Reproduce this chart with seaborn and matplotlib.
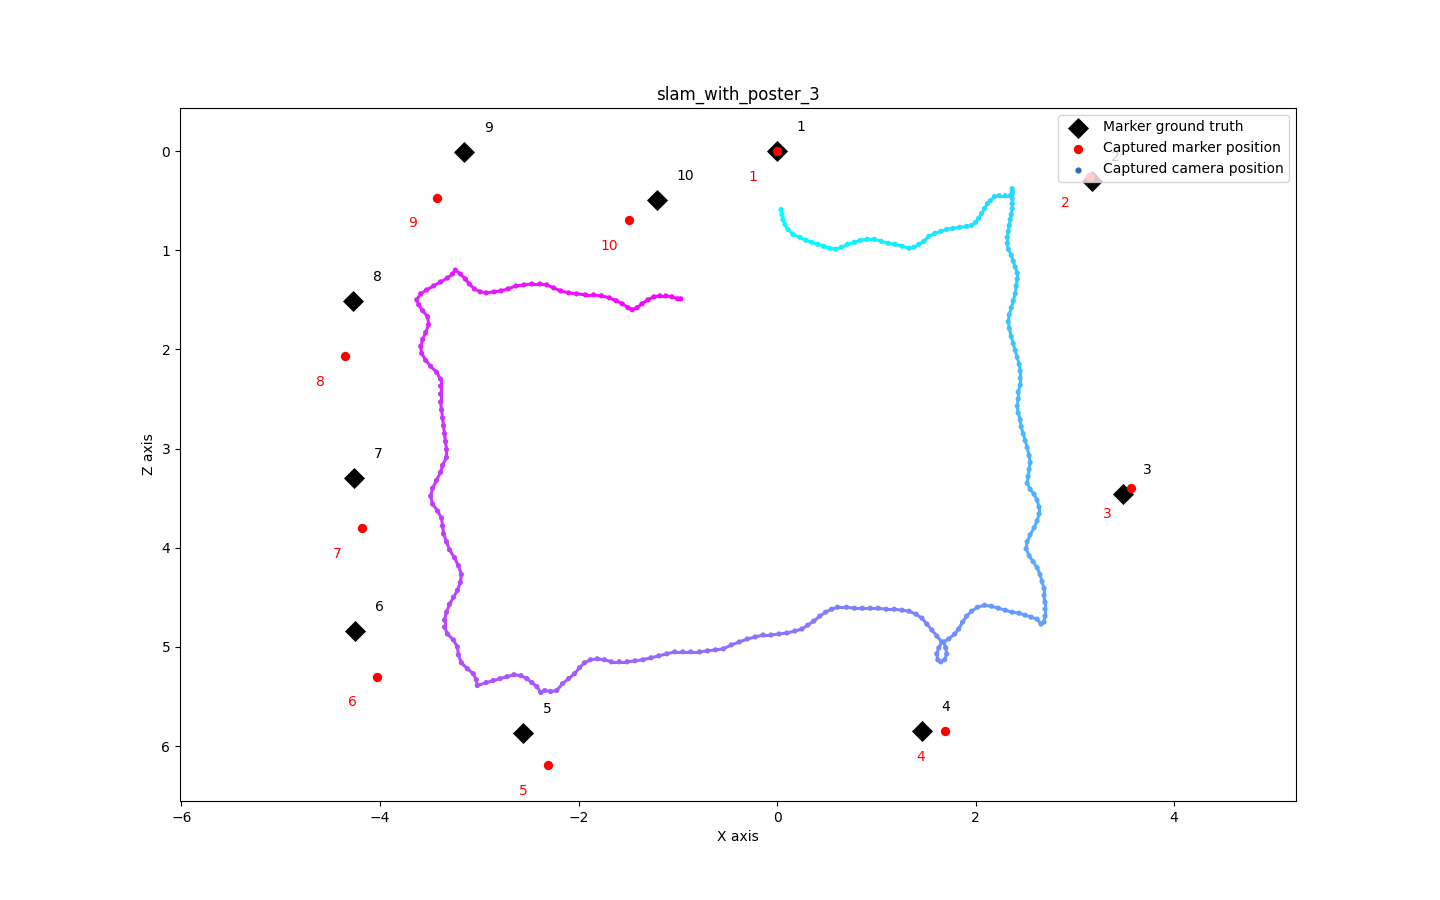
import numpy as np
import seaborn as sb
import matplotlib.pyplot as plt
from matplotlib.collections import LineCollection

# marker positions
marker_ids = [1, 2, 3, 4, 5, 6, 7, 8, 9, 10]
truth_x = [0.0, 3.17, 3.49, 1.46, -2.56, -4.25, -4.26, -4.27, -3.15, -1.21]
truth_z = [0.0, 0.30, 3.46, 5.85, 5.87, 4.84, 3.30, 1.51, 0.01, 0.49]
captured_x = [0.0, 3.15, 3.57, 1.69, -2.31, -4.03, -4.18, -4.35, -3.43, -1.49]
captured_z = [0.0, 0.26, 3.40, 5.85, 6.19, 5.30, 3.80, 2.07, 0.47, 0.70]

# camera track, in capture order
camera_x = [
    0.04, 0.05, 0.06, 0.08, 0.11, 0.16, 0.23, 0.29, 0.35, 0.41, 0.47, 0.53, 0.59, 0.65, 0.71, 0.78,
    0.84, 0.91, 0.98, 1.05, 1.12, 1.19, 1.26, 1.33, 1.38, 1.43, 1.48, 1.53, 1.59, 1.65, 1.71, 1.77,
    1.84, 1.91, 1.96, 2.00, 2.03, 2.06, 2.09, 2.12, 2.15, 2.19, 2.24, 2.30, 2.35, 2.37, 2.37, 2.37,
    2.37, 2.37, 2.37, 2.36, 2.35, 2.34, 2.33, 2.32, 2.32, 2.33, 2.36, 2.38, 2.40, 2.42, 2.42, 2.41,
    2.40, 2.38, 2.36, 2.34, 2.33, 2.34, 2.36, 2.38, 2.40, 2.42, 2.44, 2.45, 2.45, 2.45, 2.43, 2.43,
    2.42, 2.43, 2.45, 2.46, 2.48, 2.50, 2.52, 2.54, 2.55, 2.54, 2.53, 2.52, 2.55, 2.59, 2.62, 2.64,
    2.64, 2.62, 2.59, 2.55, 2.52, 2.51, 2.54, 2.58, 2.62, 2.65, 2.67, 2.69, 2.69, 2.70, 2.70, 2.70,
    2.69, 2.66, 2.62, 2.56, 2.50, 2.44, 2.37, 2.30, 2.23, 2.16, 2.09, 2.02, 1.96, 1.91, 1.87, 1.83,
    1.79, 1.73, 1.68, 1.70, 1.71, 1.69, 1.65, 1.62, 1.61, 1.63, 1.66, 1.61, 1.56, 1.51, 1.46, 1.40,
    1.33, 1.26, 1.18, 1.10, 1.02, 0.94, 0.86, 0.78, 0.70, 0.61, 0.55, 0.49, 0.43, 0.37, 0.31, 0.25,
    0.18, 0.10, 0.02, -0.06, -0.14, -0.22, -0.30, -0.38, -0.46, -0.54, -0.62, -0.70, -0.78, -0.87,
    -0.95, -1.03, -1.11, -1.19, -1.27, -1.35, -1.43, -1.51, -1.59, -1.67, -1.74, -1.81, -1.88, -1.94,
    -1.99, -2.04, -2.10, -2.16, -2.22, -2.28, -2.34, -2.38, -2.42, -2.47, -2.52, -2.58, -2.65, -2.72,
    -2.79, -2.86, -2.93, -3.02, -3.03, -3.06, -3.12, -3.18, -3.21, -3.22, -3.26, -3.32, -3.35, -3.35,
    -3.33, -3.30, -3.26, -3.22, -3.19, -3.18, -3.21, -3.25, -3.30, -3.33, -3.36, -3.37, -3.38, -3.42,
    -3.47, -3.49, -3.47, -3.43, -3.39, -3.37, -3.33, -3.33, -3.34, -3.35, -3.36, -3.37, -3.38, -3.39,
    -3.39, -3.39, -3.39, -3.43, -3.49, -3.54, -3.58, -3.59, -3.57, -3.54, -3.51, -3.52, -3.57, -3.61,
    -3.63, -3.59, -3.53, -3.46, -3.39, -3.32, -3.27, -3.24, -3.19, -3.14, -3.10, -3.05, -2.99, -2.93,
    -2.85, -2.78, -2.71, -2.63, -2.55, -2.47, -2.39, -2.32, -2.25, -2.18, -2.10, -2.02, -1.93, -1.85,
    -1.77, -1.69, -1.62, -1.56, -1.50, -1.46, -1.41, -1.36, -1.30, -1.24, -1.18, -1.12, -1.06, -1.00,
    -0.97,
]
camera_z = [
    0.59, 0.64, 0.69, 0.74, 0.79, 0.84, 0.87, 0.90, 0.92, 0.94, 0.96, 0.98, 0.99, 0.97, 0.94, 0.92,
    0.90, 0.89, 0.89, 0.91, 0.93, 0.94, 0.96, 0.98, 0.97, 0.94, 0.91, 0.86, 0.83, 0.81, 0.79, 0.78,
    0.77, 0.76, 0.75, 0.72, 0.68, 0.63, 0.58, 0.53, 0.50, 0.46, 0.45, 0.45, 0.45, 0.41, 0.38, 0.43,
    0.48, 0.53, 0.58, 0.64, 0.69, 0.75, 0.81, 0.87, 0.93, 0.99, 1.05, 1.11, 1.17, 1.23, 1.29, 1.36,
    1.44, 1.51, 1.58, 1.65, 1.72, 1.79, 1.87, 1.94, 2.01, 2.08, 2.15, 2.22, 2.29, 2.36, 2.43, 2.50,
    2.57, 2.64, 2.71, 2.78, 2.85, 2.92, 2.99, 3.07, 3.14, 3.21, 3.28, 3.35, 3.41, 3.46, 3.52, 3.59,
    3.66, 3.73, 3.80, 3.87, 3.94, 4.01, 4.08, 4.14, 4.20, 4.27, 4.34, 4.41, 4.48, 4.55, 4.62, 4.69,
    4.75, 4.77, 4.72, 4.70, 4.68, 4.66, 4.65, 4.63, 4.61, 4.59, 4.58, 4.60, 4.64, 4.69, 4.75, 4.82,
    4.87, 4.92, 4.95, 5.01, 5.07, 5.13, 5.15, 5.13, 5.07, 5.01, 4.95, 4.89, 4.83, 4.77, 4.71, 4.67,
    4.64, 4.63, 4.62, 4.62, 4.61, 4.61, 4.61, 4.61, 4.60, 4.60, 4.62, 4.65, 4.69, 4.74, 4.78, 4.82,
    4.84, 4.86, 4.87, 4.88, 4.88, 4.90, 4.92, 4.95, 4.98, 5.02, 5.03, 5.04, 5.05, 5.05,
    5.05, 5.05, 5.07, 5.09, 5.11, 5.13, 5.14, 5.15, 5.15, 5.15, 5.13, 5.12, 5.13, 5.16,
    5.21, 5.27, 5.32, 5.37, 5.44, 5.45, 5.44, 5.46, 5.40, 5.36, 5.32, 5.29, 5.28, 5.30,
    5.32, 5.34, 5.36, 5.39, 5.33, 5.27, 5.22, 5.16, 5.08, 5.00, 4.93, 4.87, 4.80, 4.73,
    4.65, 4.57, 4.50, 4.43, 4.35, 4.27, 4.18, 4.10, 4.02, 3.94, 3.86, 3.78, 3.70, 3.63,
    3.56, 3.48, 3.40, 3.32, 3.24, 3.17, 3.09, 3.01, 2.93, 2.85, 2.77, 2.69, 2.61, 2.53,
    2.45, 2.37, 2.30, 2.23, 2.17, 2.11, 2.04, 1.97, 1.90, 1.83, 1.75, 1.67, 1.61, 1.55,
    1.50, 1.44, 1.40, 1.36, 1.32, 1.28, 1.24, 1.20, 1.24, 1.29, 1.34, 1.39, 1.42, 1.43,
    1.42, 1.41, 1.39, 1.36, 1.35, 1.34, 1.34, 1.35, 1.38, 1.41, 1.43, 1.44, 1.45, 1.45,
    1.46, 1.48, 1.51, 1.54, 1.58, 1.60, 1.58, 1.54, 1.50, 1.47, 1.46, 1.46, 1.47, 1.49,
    1.49,
]


def main():
    fig, ax = plt.subplots(figsize=(14.4, 9), dpi=100)

    order = np.arange(len(camera_x))
    cmap = plt.get_cmap("cool")

    # thin trace under the dots so the dense parts of the track read as a line
    pts = np.column_stack([camera_x, camera_z])
    segs = np.stack([pts[:-1], pts[1:]], axis=1)
    ax.add_collection(LineCollection(segs, colors=cmap(order[:-1] / order[-1]), linewidths=2.2,
                                     capstyle="round"))

    sb.scatterplot(x=camera_x, y=camera_z, hue=order, palette="cool", s=14, linewidth=0,
                   legend=False, ax=ax)
    sb.scatterplot(x=truth_x, y=truth_z, marker="D", s=115, color="black", linewidth=0,
                   label="Marker ground truth", ax=ax)
    sb.scatterplot(x=captured_x, y=captured_z, marker="o", s=45, color="red", linewidth=0,
                   label="Captured marker position", ax=ax)
    ax.scatter([], [], s=12, color="#2a6fb0", label="Captured camera position")

    for i, num in enumerate(marker_ids):
        ax.text(truth_x[i] + 0.2, truth_z[i] - 0.2, str(num), color="black", fontsize=10)
        ax.text(captured_x[i] - 0.29, captured_z[i] + 0.3, str(num), color="red", fontsize=10)

    ax.set_xlim(-6.015, 5.229)
    ax.set_ylim(6.554, -0.434)
    ax.set_xticks([-6, -4, -2, 0, 2, 4])
    ax.set_yticks([0, 1, 2, 3, 4, 5, 6])
    ax.set_xlabel("X axis")
    ax.set_ylabel("Z axis")
    ax.set_title("slam_with_poster_3")
    ax.legend(loc="upper right")

    plt.savefig("out.png", dpi=100)


if __name__ == "__main__":
    main()
